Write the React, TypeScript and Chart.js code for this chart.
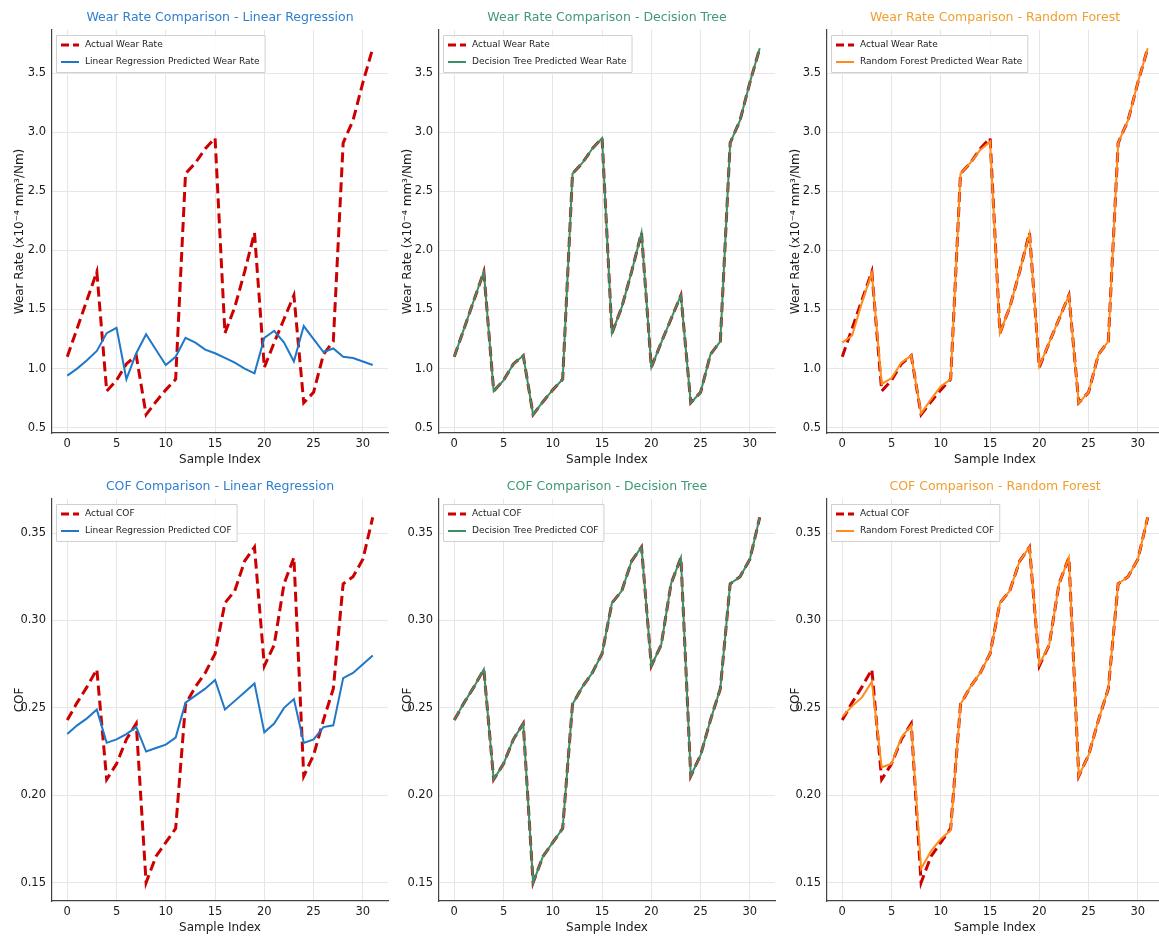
import React, { useEffect, useRef } from "react";
import { Chart, registerables } from "chart.js";

Chart.register(...registerables);

const FONT = "'DejaVu Sans', 'Noto Sans', sans-serif";

// ---------- data ----------
const sampleIndex = [0, 1, 2, 3, 4, 5, 6, 7, 8, 9, 10, 11, 12, 13, 14, 15, 16, 17, 18, 19, 20, 21, 22, 23, 24, 25, 26, 27, 28, 29, 30, 31];

const actualWear = [1.10, 1.34, 1.58, 1.82, 0.81, 0.90, 1.04, 1.11, 0.61, 0.72, 0.82, 0.91, 2.65, 2.74, 2.86, 2.95, 1.30, 1.52, 1.82, 2.15, 1.01, 1.22, 1.42, 1.62, 0.71, 0.80, 1.12, 1.23, 2.91, 3.10, 3.42, 3.71];
const lrWear = [0.94, 1.00, 1.07, 1.15, 1.30, 1.345, 0.91, 1.13, 1.29, 1.16, 1.03, 1.10, 1.26, 1.22, 1.16, 1.13, 1.09, 1.05, 1.00, 0.96, 1.26, 1.32, 1.22, 1.06, 1.36, 1.25, 1.14, 1.17, 1.10, 1.09, 1.06, 1.03];
const dtWear = [1.10, 1.34, 1.58, 1.82, 0.81, 0.90, 1.04, 1.11, 0.61, 0.72, 0.82, 0.91, 2.65, 2.74, 2.86, 2.95, 1.30, 1.52, 1.82, 2.15, 1.01, 1.22, 1.42, 1.62, 0.71, 0.80, 1.12, 1.23, 2.91, 3.10, 3.42, 3.71];
const rfWear = [1.22, 1.28, 1.56, 1.81, 0.87, 0.92, 1.05, 1.11, 0.62, 0.74, 0.85, 0.91, 2.65, 2.74, 2.85, 2.92, 1.30, 1.52, 1.82, 2.14, 1.02, 1.22, 1.42, 1.62, 0.71, 0.80, 1.12, 1.23, 2.91, 3.10, 3.42, 3.71];

const actualCOF = [0.243, 0.253, 0.262, 0.272, 0.209, 0.218, 0.232, 0.241, 0.150, 0.165, 0.173, 0.181, 0.252, 0.262, 0.270, 0.281, 0.310, 0.317, 0.334, 0.342, 0.274, 0.286, 0.321, 0.336, 0.211, 0.223, 0.243, 0.261, 0.321, 0.325, 0.335, 0.359];
const lrCOF = [0.235, 0.240, 0.244, 0.249, 0.230, 0.232, 0.235, 0.239, 0.225, 0.227, 0.229, 0.233, 0.253, 0.257, 0.261, 0.266, 0.249, 0.254, 0.259, 0.264, 0.236, 0.241, 0.250, 0.255, 0.230, 0.232, 0.239, 0.240, 0.267, 0.270, 0.275, 0.280];
const dtCOF = [0.243, 0.253, 0.262, 0.272, 0.209, 0.218, 0.232, 0.241, 0.150, 0.165, 0.173, 0.181, 0.252, 0.262, 0.270, 0.281, 0.310, 0.317, 0.334, 0.342, 0.274, 0.286, 0.321, 0.336, 0.211, 0.223, 0.243, 0.261, 0.321, 0.325, 0.335, 0.359];
const rfCOF = [0.245, 0.251, 0.256, 0.265, 0.216, 0.218, 0.233, 0.240, 0.158, 0.168, 0.175, 0.180, 0.252, 0.262, 0.270, 0.281, 0.310, 0.317, 0.334, 0.342, 0.275, 0.286, 0.321, 0.336, 0.211, 0.223, 0.243, 0.261, 0.321, 0.325, 0.335, 0.359];

const models = ["Linear Regression", "Decision Tree", "Random Forest"];
const modelColors = ["#1f77c9", "#3a8f66", "#ff8c1a"];
const titleColors = ["#2f7fcf", "#3f9a74", "#f0a030"];
const wearTicks = [0.5, 1.0, 1.5, 2.0, 2.5, 3.0, 3.5];
const cofTicks = [0.15, 0.20, 0.25, 0.30, 0.35];
const xTicks = [0, 5, 10, 15, 20, 25, 30];
const ACTUAL_COLOR = "#cc0000";

// ---------- layout ----------
const COLS = [
  { left: 0, chartLeft: 52, chartRight: 388 },
  { left: 388, chartLeft: 51, chartRight: 387 },
  { left: 776, chartLeft: 51, chartRight: 387 },
];
const ROWS = [
  { top: 0, height: 468, chartTop: 30, chartBottom: 433, xTitlePad: 0.8 },
  { top: 468, height: 469, chartTop: 31, chartBottom: 433, xTitlePad: 1.8 },
];
const CANVAS_W = 390;

const decorPlugin = {
  id: "decor",
  afterDraw(chart: any, _args: any, opts: any) {
    const ctx = chart.ctx;
    const ca = chart.chartArea;
    ctx.save();
    // title
    ctx.font = `12.5px ${FONT}`;
    ctx.fillStyle = opts.titleColor;
    ctx.textAlign = "center";
    ctx.textBaseline = "middle";
    ctx.fillText(opts.title, (ca.left + ca.right) / 2, ca.top - 12.5);

    // legend
    ctx.font = `9px ${FONT}`;
    const w1 = ctx.measureText(opts.actualLabel).width;
    const w2 = ctx.measureText(opts.predLabel).width;
    const bx = ca.left + 4;
    const by = ca.top + 5;
    const bw = Math.max(w1, w2) + 34;
    const bh = 37;
    ctx.fillStyle = "rgba(255,255,255,0.85)";
    ctx.strokeStyle = "#d0d0d0";
    ctx.lineWidth = 1;
    ctx.beginPath();
    ctx.rect(bx + 0.5, by + 0.5, bw, bh);
    ctx.fill();
    ctx.stroke();

    const rows = [
      { label: opts.actualLabel, color: ACTUAL_COLOR, width: 3, dash: [8, 4] },
      { label: opts.predLabel, color: opts.predColor, width: 2, dash: [] },
    ];
    rows.forEach((r, i) => {
      const cy = by + 10 + i * 17;
      ctx.beginPath();
      ctx.setLineDash(r.dash);
      ctx.strokeStyle = r.color;
      ctx.lineWidth = r.width;
      ctx.moveTo(bx + 5, cy);
      ctx.lineTo(bx + 23, cy);
      ctx.stroke();
      ctx.setLineDash([]);
      ctx.fillStyle = "#222";
      ctx.textAlign = "left";
      ctx.textBaseline = "middle";
      ctx.fillText(r.label, bx + 29, cy);
    });
    ctx.restore();
  },
};

type PanelCfg = {
  title: string;
  titleColor: string;
  yLabel: string;
  yMin: number;
  yMax: number;
  yTicks: number[];
  decimals: number;
  actual: number[];
  predicted: number[];
  predColor: string;
  actualLabel: string;
  predLabel: string;
};

function Panel({ cfg, col, row }: { cfg: PanelCfg; col: number; row: number }) {
  const ref = useRef<HTMLCanvasElement | null>(null);
  const c = COLS[col];
  const r = ROWS[row];

  useEffect(() => {
    if (!ref.current) return;
    const toPts = (arr: number[]) => sampleIndex.map((x, i) => ({ x, y: arr[i] }));
    const chart = new Chart(ref.current, {
      type: "line",
      data: {
        datasets: [
          {
            label: cfg.actualLabel,
            data: toPts(cfg.actual),
            borderColor: ACTUAL_COLOR,
            borderWidth: 3,
            borderDash: [10, 5],
            pointRadius: 0,
            tension: 0,
            fill: false,
            order: 2,
          },
          {
            label: cfg.predLabel,
            data: toPts(cfg.predicted),
            borderColor: cfg.predColor,
            borderWidth: 2,
            pointRadius: 0,
            tension: 0,
            fill: false,
            order: 1,
          },
        ],
      },
      options: {
        animation: false,
        responsive: false,
        maintainAspectRatio: false,
        layout: {
          padding: { top: r.chartTop, left: 0, right: CANVAS_W - c.chartRight, bottom: 0 },
        },
        plugins: {
          legend: { display: false },
          tooltip: { enabled: false },
          title: { display: false },
          decor: {
            title: cfg.title,
            titleColor: cfg.titleColor,
            actualLabel: cfg.actualLabel,
            predLabel: cfg.predLabel,
            predColor: cfg.predColor,
          },
        } as any,
        scales: {
          x: {
            type: "linear",
            min: -1.55,
            max: 32.55,
            afterFit: (s: any) => {
              s.height = r.height - r.chartBottom;
            },
            afterBuildTicks: (s: any) => {
              s.ticks = xTicks.map((v) => ({ value: v }));
            },
            ticks: {
              font: { family: FONT, size: 11.5 },
              color: "#1a1a1a",
              padding: 4,
              maxRotation: 0,
              callback: (v: any) => String(v),
            },
            grid: { color: "#e6e6e6", lineWidth: 1, drawTicks: false },
            border: { display: true, color: "#444", width: 1.2 },
            title: {
              display: true,
              text: "Sample Index",
              font: { family: FONT, size: 12 },
              color: "#1a1a1a",
              padding: { top: 0, bottom: r.xTitlePad },
            },
          },
          y: {
            type: "linear",
            min: cfg.yMin,
            max: cfg.yMax,
            afterFit: (s: any) => {
              s.width = c.chartLeft;
            },
            afterBuildTicks: (s: any) => {
              s.ticks = cfg.yTicks.map((v) => ({ value: v }));
            },
            ticks: {
              font: { family: FONT, size: 11.5 },
              color: "#1a1a1a",
              padding: 6,
              callback: (v: any) => Number(v).toFixed(cfg.decimals),
            },
            grid: { color: "#e6e6e6", lineWidth: 1, drawTicks: false },
            border: { display: true, color: "#444", width: 1.2 },
            title: {
              display: true,
              text: cfg.yLabel,
              font: { family: FONT, size: 12 },
              color: "#1a1a1a",
              padding: { top: 13, bottom: 0 },
            },
          },
        },
      },
      plugins: [decorPlugin],
    });
    return () => chart.destroy();
  }, []);

  return (
    <canvas
      ref={ref}
      width={CANVAS_W}
      height={r.height}
      style={{ position: "absolute", left: c.left, top: r.top, width: CANVAS_W, height: r.height, display: "block" }}
    />
  );
}

const wearPred = [lrWear, dtWear, rfWear];
const cofPred = [lrCOF, dtCOF, rfCOF];

export default function App() {
  const panels: { cfg: PanelCfg; col: number; row: number }[] = [];
  models.forEach((m, i) => {
    panels.push({
      col: i,
      row: 0,
      cfg: {
        title: `Wear Rate Comparison - ${m}`,
        titleColor: titleColors[i],
        yLabel: "Wear Rate (x10⁻⁴ mm³/Nm)",
        yMin: 0.455,
        yMax: 3.865,
        yTicks: wearTicks,
        decimals: 1,
        actual: actualWear,
        predicted: wearPred[i],
        predColor: modelColors[i],
        actualLabel: "Actual Wear Rate",
        predLabel: `${m} Predicted Wear Rate`,
      },
    });
  });
  models.forEach((m, i) => {
    panels.push({
      col: i,
      row: 1,
      cfg: {
        title: `COF Comparison - ${m}`,
        titleColor: titleColors[i],
        yLabel: "COF",
        yMin: 0.1395,
        yMax: 0.3695,
        yTicks: cofTicks,
        decimals: 2,
        actual: actualCOF,
        predicted: cofPred[i],
        predColor: modelColors[i],
        actualLabel: "Actual COF",
        predLabel: `${m} Predicted COF`,
      },
    });
  });

  return (
    <div
      style={{
        position: "absolute",
        left: 0,
        top: 0,
        width: 1159,
        height: 937,
        overflow: "hidden",
        background: "#ffffff",
      }}
    >
      {panels.map((p, k) => (
        <Panel key={k} cfg={p.cfg} col={p.col} row={p.row} />
      ))}
    </div>
  );
}
